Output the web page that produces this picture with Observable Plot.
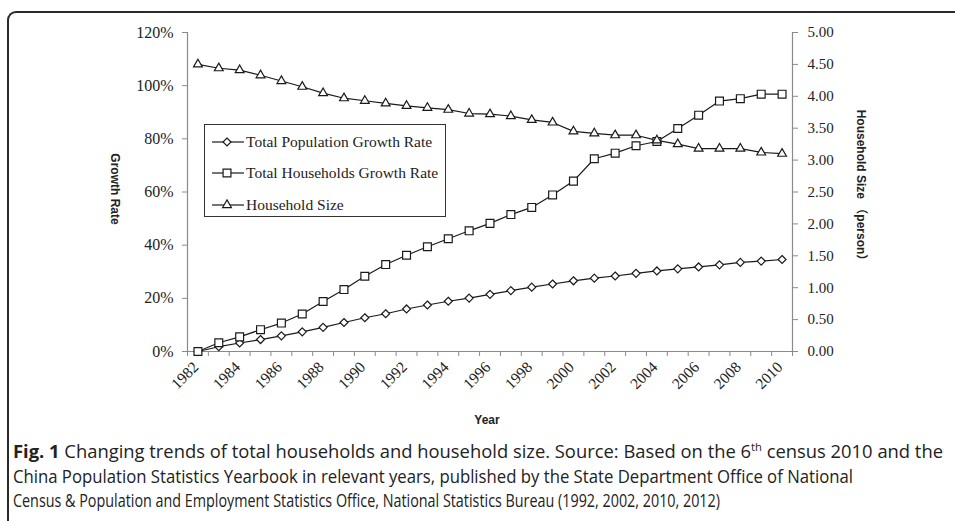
<!DOCTYPE html>
<html><head><meta charset="utf-8">
<script src="https://cdn.jsdelivr.net/npm/d3@7"></script>
<script src="https://cdn.jsdelivr.net/npm/@observablehq/plot@0.6"></script>
<style>
body{margin:0;background:#fff;}
#wrap{position:relative;width:955px;height:521px;overflow:hidden;background:#fff;}
#frame{position:absolute;left:7px;top:11px;width:990px;height:560px;border-top:2px solid #2a2a2a;border-left:2px solid #2a2a2a;border-top-left-radius:9px;box-sizing:border-box;}
#chart{position:absolute;left:0;top:0;}
#legend{position:absolute;left:204px;top:124px;width:242px;height:93px;border:1px solid #333;box-sizing:border-box;background:#fff;font-family:"Liberation Serif",serif;font-size:15.5px;color:#222;}
.row{position:absolute;left:0;height:20px;display:flex;align-items:center;white-space:nowrap;}
.row svg{display:block;margin-left:7px;margin-right:2px;}
.cap{position:absolute;left:13px;white-space:nowrap;font-family:"Open Sans",sans-serif;font-size:18px;color:#222;transform-origin:0 50%;line-height:22px;}
.cap b{font-weight:700;}
.cap .sup{font-size:11px;position:relative;top:-7px;vertical-align:baseline;}
</style>
</head><body>
<div id="wrap">
  <div id="frame"></div>
  <div id="chart"></div>
  <div id="legend"></div>
  <div class="cap" id="cap1" data-w="930" style="top:440px"><b>Fig. 1</b> Changing trends of total households and household size. Source: Based on the 6<span class="sup">th</span> census 2010 and the</div>
  <div class="cap" id="cap2" data-w="840" style="top:465px">China Population Statistics Yearbook in relevant years, published by the State Department Office of National</div>
  <div class="cap" id="cap3" data-w="707" style="top:489px">Census &amp; Population and Employment Statistics Office, National Statistics Bureau (1992, 2002, 2010, 2012)</div>
</div>
<script>
const years = [1982,1983,1984,1985,1986,1987,1988,1989,1990,1991,1992,1993,1994,1995,1996,1997,1998,1999,2000,2001,2002,2003,2004,2005,2006,2007,2008,2009,2010];
const populationGrowth = [0,1.8,3.2,4.5,5.9,7.4,9.1,10.9,12.7,14.2,16.0,17.5,18.9,20.1,21.5,22.9,24.2,25.4,26.6,27.6,28.4,29.4,30.3,31.1,31.8,32.6,33.5,34.0,34.6];
const householdsGrowth = [0,3.3,5.5,8.2,10.7,14.1,18.8,23.3,28.3,32.7,36.2,39.4,42.4,45.4,48.2,51.5,54.2,58.9,64.1,72.5,74.6,77.4,79.0,83.9,88.9,94.2,95.1,96.8,96.8];
const householdSize = [4.50,4.44,4.41,4.33,4.24,4.15,4.05,3.97,3.93,3.89,3.85,3.82,3.79,3.73,3.72,3.69,3.63,3.59,3.45,3.42,3.39,3.39,3.31,3.25,3.18,3.18,3.18,3.12,3.10];
const seriesNames = ["Total Population Growth Rate","Total Households Growth Rate","Household Size"];
const seriesSymbols = ["diamond2","square2","triangle2"];
const leftTicks = [0,20,40,60,80,100,120];
const rightTicks = [0,0.5,1,1.5,2,2.5,3,3.5,4,4.5,5];
const yearLabels = [1982,1984,1986,1988,1990,1992,1994,1996,1998,2000,2002,2004,2006,2008,2010];
const leftMax = 120, rightMax = 5;
const ratio = leftMax / rightMax;

const rows = years.map((year,i)=>({year, pop: populationGrowth[i], hh: householdsGrowth[i], size: householdSize[i]*ratio}));
const bounds = years.map(y=>y-0.5).concat([years[years.length-1]+0.5]);

const axisGray = "#8a8a8a";
const ink = "#1a1a1a";
const chart = Plot.plot({
  width: 955, height: 440,
  marginLeft: 187, marginRight: 163, marginTop: 32, marginBottom: 89,
  x: {type:"linear", domain:[bounds[0], bounds[bounds.length-1]]},
  y: {domain:[0,leftMax]},
  style: {fontFamily:"'Liberation Serif', serif", fontSize:"15px", color:"#222", background:"transparent", overflow:"visible"},
  marks: [
    Plot.ruleX([bounds[0], bounds[bounds.length-1]], {stroke:axisGray, strokeWidth:1.2}),
    Plot.ruleY([0], {stroke:axisGray, strokeWidth:1.2}),
    Plot.axisY({ticks:leftTicks, tickFormat:d=>d+"%", tickSize:5, tickPadding:9, stroke:axisGray, label:null, fontSize:16}),
    Plot.axisY({anchor:"right", ticks:rightTicks.map(v=>v*ratio), tickFormat:d=>(d/ratio).toFixed(2), tickSize:5, tickPadding:10, stroke:axisGray, label:null, fontSize:15}),
    Plot.axisX({ticks:bounds, tickFormat:()=>"", tickSize:5, stroke:axisGray, label:null}),
    Plot.axisX({ticks:yearLabels, tickFormat:d=>String(d), tickSize:0, tickPadding:13, tickRotate:-45, dx:-2, label:null, fontSize:15.5}),
    Plot.text(["Growth Rate"], {frameAnchor:"left", textAnchor:"middle", dx:-73, dy:-3, rotate:90, fontFamily:"'Liberation Sans', sans-serif", fontWeight:"bold", fontSize:12, fill:"#222"}),
    Plot.text(["Household Size （person）"], {frameAnchor:"right", textAnchor:"middle", dx:68, dy:-4, rotate:90, fontFamily:"'Liberation Sans','Noto Sans CJK SC', sans-serif", fontWeight:"bold", fontSize:12, fill:"#222"}),
    Plot.text(["Year"], {frameAnchor:"bottom", dy:72, dx:-3, fontFamily:"'Liberation Sans', sans-serif", fontWeight:"bold", fontSize:12, fill:"#222"}),
    Plot.line(rows, {x:"year", y:"pop", stroke:ink, strokeWidth:1.2}),
    Plot.line(rows, {x:"year", y:"hh", stroke:ink, strokeWidth:1.2}),
    Plot.line(rows, {x:"year", y:"size", stroke:ink, strokeWidth:1.2}),
    Plot.dot(rows, {x:"year", y:"pop", symbol:seriesSymbols[0], r:3.6, stroke:ink, fill:"white", strokeWidth:1.2}),
    Plot.dot(rows, {x:"year", y:"hh", symbol:seriesSymbols[1], r:5.0, stroke:ink, fill:"white", strokeWidth:1.2}),
    Plot.dot(rows, {x:"year", y:"size", symbol:seriesSymbols[2], r:4.2, stroke:ink, fill:"white", strokeWidth:1.2})
  ]
});
document.getElementById("chart").appendChild(chart);

// legend
const legend = d3.select("#legend");
const symMap = {diamond2:[d3.symbolDiamond2, 3.6], square2:[d3.symbolSquare2, 5.0], triangle2:[d3.symbolTriangle2, 4.2]};
const rowTops = [7, 38, 70];
seriesNames.forEach((name,i)=>{
  const row = legend.append("div").attr("class","row").style("top", rowTops[i]+"px");
  const svg = row.append("svg").attr("width",32).attr("height",20);
  svg.append("line").attr("x1",0).attr("x2",32).attr("y1",10).attr("y2",10).attr("stroke",ink).attr("stroke-width",1.2);
  const [t, r] = symMap[seriesSymbols[i]];
  svg.append("path").attr("d", d3.symbol(t, Math.PI*r*r)()).attr("transform","translate(15,10)")
    .attr("fill","white").attr("stroke",ink).attr("stroke-width",1.2);
  row.append("span").text(name);
});

// fit each caption line to its width
document.querySelectorAll(".cap").forEach(el=>{
  const w = el.getBoundingClientRect().width;
  el.style.transform = `scaleX(${(+el.dataset.w)/w})`;
});
</script>
</body></html>
